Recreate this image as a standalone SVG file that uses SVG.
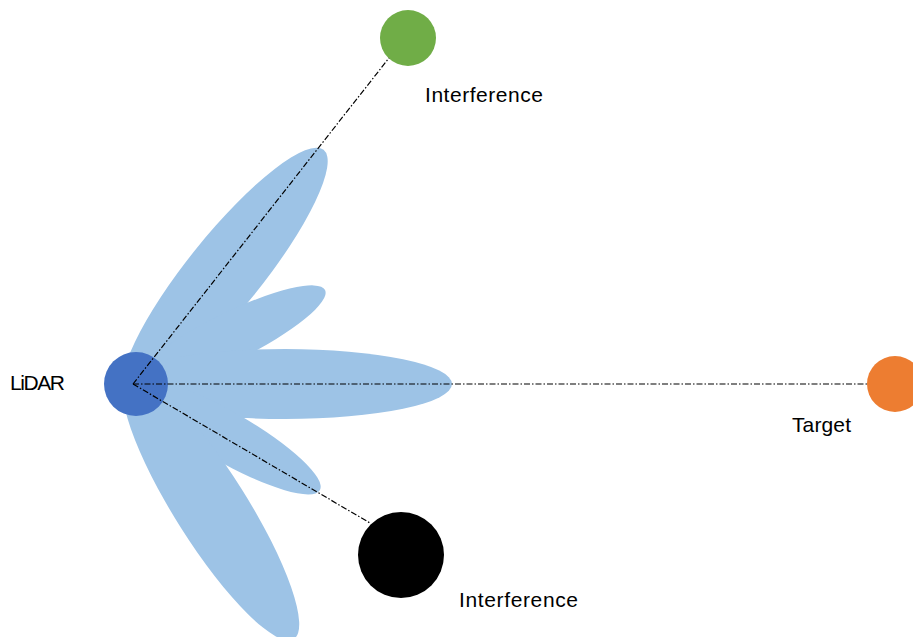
<svg xmlns="http://www.w3.org/2000/svg" width="913" height="637" viewBox="0 0 913 637">
<style>
.lobe{fill:#9DC3E6}
.lbl{font-family:"Liberation Sans",Arial,sans-serif;font-size:21px;fill:#000}
.link{stroke:#000;stroke-width:1.2;fill:none;stroke-dasharray:6 2 1.5 2}
</style>
<rect width="913" height="637" fill="#fff"/>
<g id="beam">
<ellipse class="lobe" cx="225" cy="272" rx="157" ry="37" transform="rotate(-51.1 225 272)"/>
<ellipse class="lobe" cx="230" cy="337" rx="106" ry="24" transform="rotate(-26.3 230 337)"/>
<ellipse class="lobe" cx="285" cy="384" rx="167" ry="35"/>
<ellipse class="lobe" cx="227" cy="437" rx="107" ry="25" transform="rotate(29.8 227 437)"/>
<ellipse class="lobe" cx="211" cy="508" rx="155" ry="36" transform="rotate(57.7 211 508)"/>
</g>
<g id="lidar">
<circle cx="136" cy="384" r="32" fill="#4472C4"/>
<text class="lbl" x="10" y="390" textLength="55">LiDAR</text>
</g>
<g id="interference-top">
<circle cx="408" cy="38" r="28" fill="#70AD47"/>
<text class="lbl" x="425" y="102" textLength="118">Interference</text>
</g>
<g id="target">
<circle cx="895" cy="384" r="28" fill="#ED7D31"/>
<text class="lbl" x="792" y="432" textLength="59">Target</text>
</g>
<g id="interference-bottom">
<circle cx="401" cy="555" r="43" fill="#000"/>
<text class="lbl" x="459" y="607" textLength="119">Interference</text>
</g>
<g id="connectors">
<line class="link" x1="133" y1="384" x2="389" y2="58"/>
<line class="link" x1="133" y1="384" x2="867" y2="384"/>
<line class="link" x1="133" y1="384" x2="370" y2="523"/>
</g>
</svg>
